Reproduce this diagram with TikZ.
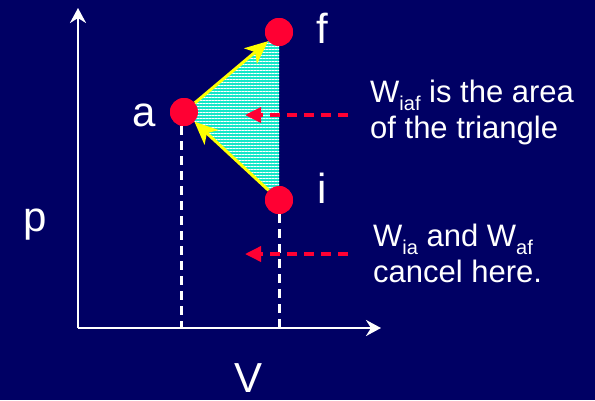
\documentclass[tikz,border=0pt]{standalone}
\usepackage{fontspec}
\setmainfont{Liberation Sans}
\usetikzlibrary{arrows.meta,patterns.meta}
\definecolor{navy}{RGB}{0,0,100}
\definecolor{ptred}{RGB}{255,0,51}
\definecolor{ptyellow}{RGB}{255,255,0}
\definecolor{areacyan}{RGB}{20,230,200}
\newcommand{\subtxt}[1]{\raisebox{-0.28em}{\fontsize{20}{20}\selectfont #1}}
\begin{document}
\begin{tikzpicture}[x=1pt,y=-1pt,
    state/.style={circle, fill=ptred, minimum size=28pt, inner sep=0pt},
    lbl/.style={text=white, anchor=base, font=\fontsize{42}{42}\selectfont},
    note/.style={text=white, anchor=base west, align=left, inner sep=0pt,
      font=\fontsize{31}{36}\selectfont},
    drop/.style={white, line width=3pt, dash pattern=on 9pt off 6pt},
    pointer/.style={ptred, line width=3.5pt, dash pattern=on 10pt off 7pt,
      -{Triangle[length=16pt,width=15pt]}},
    proc/.style={ptyellow, line width=3pt,
      -{Stealth[length=23pt,width=20pt,inset=6pt]}}]
  \fill[navy] (0,0) rectangle (595,400);
  \useasboundingbox (0,0) rectangle (595,400);

  \coordinate (O) at (78,328);
  \coordinate (ptop) at (78,8);
  \coordinate (vend) at (381,328);
  \draw[white, line width=2.5pt, -{Stealth[length=15pt,width=16pt,inset=5pt]}] (O) -- (ptop);
  \draw[white, line width=2.5pt, -{Stealth[length=15pt,width=16pt,inset=5pt]}] (O) -- (vend);

  \node[state] (a) at (184,112) {};
  \node[state] (f) at (279,32)  {};
  \node[state] (i) at (279,200) {};

  \fill[areacyan] (a.center) -- (f.center) -- (i.center) -- cycle;
  \fill[pattern={Lines[angle=0, distance=3pt, line width=0.8pt]}, pattern color=white]
    (a.center) -- (f.center) -- (i.center) -- cycle;

  \draw[drop] ([xshift=-3pt]a.south) -- ([xshift=-3pt]a.south |- O);
  \draw[drop] (i.south) -- (i.south |- O);

  \draw[proc] (a) -- (f);
  \draw[proc] (i) -- (a);
  \node[state] at (a) {};
  \node[state] at (f) {};
  \node[state] at (i) {};

  \node[lbl] (alab) at (144,126) {a};
  \node[lbl] (flab) at (322,43)  {f};
  \node[lbl] (ilab) at (322,203) {i};
  \node[lbl] (plab) at (35,231)  {p};
  \node[lbl] (vlab) at (249,392) {V};

  \node[note] (area) at (370,138) {W\subtxt{iaf} is the area\\of the triangle};
  \node[note] (cancel) at (373,282) {W\subtxt{ia} and W\subtxt{af}\\cancel here.};

  \coordinate (p1) at (348,115);
  \coordinate (q1) at (245,115);
  \coordinate (p2) at (348,254);
  \coordinate (q2) at (245,254);
  \draw[pointer] (p1) -- (q1);
  \draw[pointer] (p2) -- (q2);
\end{tikzpicture}
\end{document}
